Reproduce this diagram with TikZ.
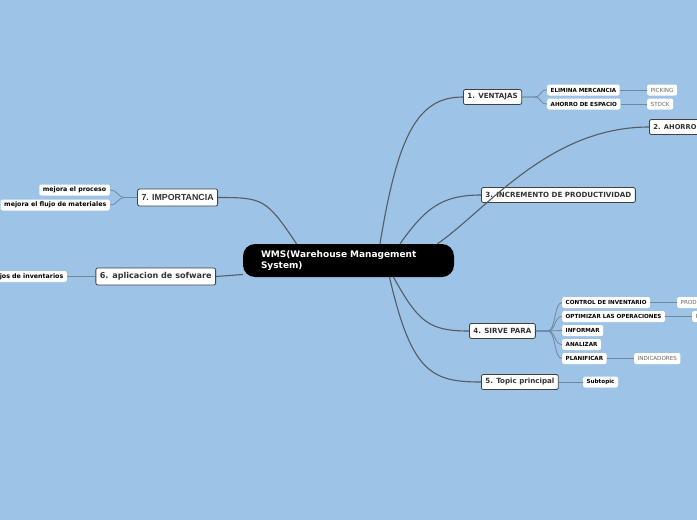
\documentclass[tikz,border=0pt]{standalone}
\usepackage{fontspec}
\setmainfont{DejaVu Sans}
\newfontfamily\arialfont{Liberation Sans}
\usepackage{tikz}

\definecolor{fondo}{RGB}{157,195,230}
\definecolor{linea}{RGB}{85,92,100}
\definecolor{ramita}{RGB}{112,135,158}

\tikzset{
  centro/.style={fill=black, rounded corners=12pt, text=white, font=\bfseries\fontsize{9}{10.8}\selectfont,
    minimum width=211pt, minimum height=33pt, text width=175pt, align=left, inner xsep=18pt},
  tema/.style={fill=white, draw=black!75, line width=0.8pt, rounded corners=2pt, text=black!80,
    font=\bfseries\fontsize{7.1}{8}\selectfont, minimum height=15pt, inner xsep=4pt, inner ysep=0pt},
  temaA/.style={tema, font=\arialfont\bfseries\fontsize{8.8}{9}\selectfont, minimum height=17pt},
  temaB/.style={tema, font=\bfseries\fontsize{8.1}{9}\selectfont, minimum height=17pt},
  sub/.style={fill=white, rounded corners=2pt, font=\bfseries\fontsize{5.6}{6.5}\selectfont,
    minimum height=11pt, inner xsep=3.5pt, inner ysep=0pt},
  subA/.style={sub, font=\bfseries\fontsize{6.3}{7}\selectfont},
  hoja/.style={fill=white, rounded corners=2pt, text=black!60, font=\fontsize{5.6}{6.5}\selectfont,
    minimum height=11pt, inner xsep=3.5pt, inner ysep=0pt},
  rama/.style={draw=linea, line width=1.1pt},
  ramilla/.style={draw=ramita, line width=0.8pt},
}

\begin{document}
\begin{tikzpicture}[x=1pt, y=-1pt]
    \fill[fondo] (0,0) rectangle (697,520);
    \useasboundingbox (0,0) rectangle (697,520);

    % Nodo central
    \node[centro] (wms) at (348.5,260.5) {WMS(Warehouse Management\\System)};

    % Temas principales
    \node[tema, anchor=west] (ventajas) at (463,97) {1. VENTAJAS};
    \node[tema, anchor=west, minimum width=70pt, align=left, text width=62pt,
      font=\bfseries\fontsize{6.7}{8}\selectfont] (ahorro) at (649,127) {2. AHORRO};
    \node[tema, anchor=west] (increm) at (481,195) {3. INCREMENTO DE PRODUCTIVIDAD};
    \node[tema, anchor=west] (sirve) at (469,331) {4. SIRVE PARA};
    \node[tema, anchor=west] (topic) at (481,382) {5. Topic principal};
    \node[temaB, anchor=east] (aplic) at (216,276.5) {6. aplicacion de sofware};
    \node[temaA, anchor=east] (importancia) at (218,197.5) {7. IMPORTANCIA};

    % Subtemas
    \node[sub, anchor=west] (elimina) at (547,90) {ELIMINA MERCANCIA};
    \node[sub, anchor=west] (espacio) at (547,104) {AHORRO DE ESPACIO};
    \node[hoja, anchor=west] (picking) at (647,90) {PICKING};
    \node[hoja, anchor=west] (stock) at (647,104) {STOCK};

    \node[sub, anchor=west] (control) at (562,302.5) {CONTROL DE INVENTARIO};
    \node[sub, anchor=west] (optimizar) at (562,316.5) {OPTIMIZAR LAS OPERACIONES};
    \node[sub, anchor=west] (informar) at (562,330.5) {INFORMAR};
    \node[sub, anchor=west] (analizar) at (562,344.5) {ANALIZAR};
    \node[sub, anchor=west] (planificar) at (562,358.5) {PLANIFICAR};
    \node[hoja, anchor=west] (prod) at (677,302.5) {PRODUCTOS};
    \node[hoja, anchor=west] (optleaf) at (692,316.5) {PROCESOS};
    \node[hoja, anchor=west] (indicadores) at (634,358.5) {INDICADORES};

    \node[sub, anchor=west] (subtopic) at (583,382) {Subtopic};

    \node[subA, anchor=east] (proceso) at (110,190) {mejora el proceso};
    \node[subA, anchor=east] (flujo) at (110,205) {mejora el flujo de materiales};
    \node[subA, anchor=east] (manejos) at (67,276.5) {manejos de inventarios};

    % Ramas del nodo central
    \draw[rama] ([xshift=31.5pt]wms.north) .. controls +(18,-110) and +(-45,0) .. (ventajas.west);
    \draw[rama] ([xshift=89pt]wms.north) .. controls +(50,-35) and +(-100,0) .. (ahorro.west);
    \draw[rama] ([xshift=51.5pt]wms.north) .. controls +(25,-35) and +(-40,0) .. (increm.west);
    \draw[rama] ([xshift=45pt]wms.south) .. controls +(25,45) and +(-40,0) .. (sirve.west);
    \draw[rama] ([xshift=41pt]wms.south) .. controls +(22,95) and +(-50,0) .. (topic.west);
    \draw[rama] ([xshift=-52pt]wms.north) .. controls +(-30,-45) and +(45,0) .. (importancia.east);
    \draw[rama] ([yshift=-14pt]wms.west) -- (aplic.east);

    % Ramas secundarias
    \foreach \hijo in {elimina, espacio}
        \draw[ramilla] (ventajas.east) -- ++(12,0) .. controls +(8,0) and +(-8,0) .. (\hijo.west);
    \foreach \hijo in {control, optimizar, informar, analizar, planificar}
        \draw[ramilla] (sirve.east) -- ++(12,0) .. controls +(8,0) and +(-8,0) .. (\hijo.west);
    \foreach \hijo in {proceso, flujo}
        \draw[ramilla] (importancia.west) -- ++(-12,0) .. controls +(-8,0) and +(8,0) .. (\hijo.east);
    \draw[ramilla] (elimina) -- (picking);
    \draw[ramilla] (espacio) -- (stock);
    \draw[ramilla] (control) -- (prod);
    \draw[ramilla] (optimizar) -- (optleaf);
    \draw[ramilla] (planificar) -- (indicadores);
    \draw[ramilla] (topic) -- (subtopic);
    \draw[ramilla] (aplic) -- (manejos);
\end{tikzpicture}
\end{document}
